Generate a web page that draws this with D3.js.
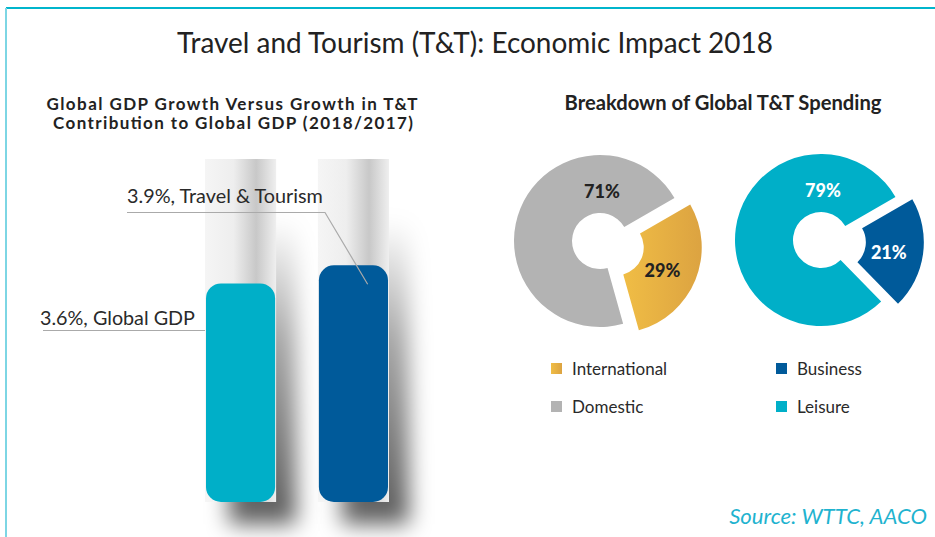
<!DOCTYPE html>
<html>
<head>
<meta charset="utf-8">
<script src="https://cdn.jsdelivr.net/npm/d3@7"></script>
<style>
  body { margin: 0; background: #fff; }
  text { font-family: Lato, "Open Sans", sans-serif; }
</style>
</head>
<body>
<div id="plot"></div>
<script>
// growth bars (percent, 2018 vs 2017)
const barCats = ["Global GDP", "Travel & Tourism"];
const barVals = [3.6, 3.9];
const barColors = ["#00afc8", "#005a9a"];

// spending breakdowns (percent)
const originCats = ["International", "Domestic"];
const originVals = [29, 71];
const originColors = ["url(#gold)", "#b3b3b3"];
const purposeCats = ["Business", "Leisure"];
const purposeVals = [21, 79];
const purposeColors = ["#005a9a", "#00afc8"];

const W = 935, H = 537;

const svg = d3.select("div#plot")
  .append("svg")
    .attr("width", W)
    .attr("height", H);

const defs = svg.append("defs");

// tube gradient behind the bars
const tube = defs.append("linearGradient").attr("id", "tube");
tube.append("stop").attr("offset", "0%").attr("stop-color", "#f5f5f5");
tube.append("stop").attr("offset", "40%").attr("stop-color", "#eeeeee");
tube.append("stop").attr("offset", "72%").attr("stop-color", "#c8c8c8");
tube.append("stop").attr("offset", "100%").attr("stop-color", "#efefef");

const gold = defs.append("linearGradient").attr("id", "gold");
gold.append("stop").attr("offset", "0%").attr("stop-color", "#f0bd45");
gold.append("stop").attr("offset", "100%").attr("stop-color", "#dca341");

const blur = defs.append("filter").attr("id", "blur")
  .attr("x", "-50%").attr("y", "-50%").attr("width", "200%").attr("height", "200%");
blur.append("feGaussianBlur").attr("stdDeviation", 11);

const fade = defs.append("linearGradient").attr("id", "fade")
  .attr("x1", 0).attr("y1", 0).attr("x2", 0).attr("y2", 1);
fade.append("stop").attr("offset", "0%").attr("stop-color", "#000").attr("stop-opacity", 0);
fade.append("stop").attr("offset", "40%").attr("stop-color", "#000").attr("stop-opacity", 0.35);
fade.append("stop").attr("offset", "100%").attr("stop-color", "#000").attr("stop-opacity", 0.65);

// frame
svg.append("line").attr("x1", 6).attr("x2", W).attr("y1", 8).attr("y2", 8)
  .attr("stroke", "#00b5cc").attr("stroke-width", 2);
svg.append("line").attr("x1", 6).attr("x2", 6).attr("y1", 8).attr("y2", H)
  .attr("stroke", "#7dd6e4").attr("stroke-width", 2);

// fit font size of a text to a target width
function fit(sel, w) {
  const len = sel.node().getComputedTextLength();
  const fs = parseFloat(sel.attr("font-size"));
  sel.attr("font-size", (fs * w / len).toFixed(2));
  return sel;
}

fit(svg.append("text")
  .attr("x", 475).attr("y", 53)
  .attr("text-anchor", "middle")
  .attr("font-size", 24)
  .attr("fill", "#222")
  .text("Travel and Tourism (T&T): Economic Impact 2018"), 596);

// ---- left: bars ----
svg.append("text").attr("x", 232).attr("y", 110).attr("text-anchor", "middle")
  .attr("font-size", 17).attr("font-weight", "bold").attr("fill", "#222")
  .attr("textLength", 371).attr("lengthAdjust", "spacing")
  .text("Global GDP Growth Versus Growth in T&T");
svg.append("text").attr("x", 233).attr("y", 129).attr("text-anchor", "middle")
  .attr("font-size", 17).attr("font-weight", "bold").attr("fill", "#222")
  .attr("textLength", 360).attr("lengthAdjust", "spacing")
  .text("Contribution to Global GDP (2018/2017)");

const x = d3.scaleBand()
  .domain(barCats)
  .range([205, 389])
  .paddingInner(0.37)
  .paddingOuter(0);

const y = d3.scaleLinear()
  .domain([0, 5.65])
  .range([502, 159]);

const bars = svg.append("g");

// soft shadows to the right of each tube
bars.selectAll(".tubeShadow")
  .data(barCats)
  .join("rect")
    .attr("x", d => x(d) + 24)
    .attr("y", y(5.65) + 60)
    .attr("width", x.bandwidth() - 4)
    .attr("height", y(0) - y(5.65) - 38)
    .attr("fill", "url(#fade)")
    .attr("filter", "url(#blur)");

bars.selectAll(".tube")
  .data(barCats)
  .join("rect")
    .attr("x", d => x(d))
    .attr("y", y(5.65))
    .attr("width", x.bandwidth())
    .attr("height", y(0) - y(5.65))
    .attr("fill", "url(#tube)");

bars.selectAll(".bar")
  .data(barVals)
  .join("rect")
    .attr("x", (d, i) => x(barCats[i]) + 1)
    .attr("y", d => y(d))
    .attr("width", x.bandwidth() - 2)
    .attr("height", d => y(0) - y(d))
    .attr("rx", 15)
    .attr("fill", (d, i) => barColors[i]);

// callouts
const c0 = svg.append("g");
fit(c0.append("text").attr("x", 40).attr("y", 325)
  .attr("font-size", 17).attr("fill", "#2a2a2a")
  .text(barVals[0].toFixed(1) + "%, " + barCats[0]), 155);
c0.append("path")
  .attr("d", `M43,330.5H${x(barCats[0])}`)
  .attr("stroke", "#aaa").attr("stroke-width", 1.2).attr("fill", "none");

const c1 = svg.append("g");
fit(c1.append("text").attr("x", 127).attr("y", 203)
  .attr("font-size", 17).attr("fill", "#2a2a2a")
  .text(barVals[1].toFixed(1) + "%, " + barCats[1]), 196);
c1.append("path")
  .attr("d", `M127,212.5H325L${x(barCats[1]) + x.bandwidth() * 0.7},${y(barVals[1]) + 19}`)
  .attr("stroke", "#aaa").attr("stroke-width", 1.2).attr("fill", "none");

// ---- right: donuts ----
fit(svg.append("text").attr("x", 723).attr("y", 110).attr("text-anchor", "middle")
  .attr("font-size", 16).attr("font-weight", "bold").attr("fill", "#222")
  .text("Breakdown of Global T&T Spending"), 317);

const rIn = 28, rOut = 86, explode = 17;
const pie = d3.pie().sort(null)
  .startAngle(Math.PI / 3)
  .endAngle(Math.PI / 3 + 2 * Math.PI);
const arc = d3.arc().innerRadius(rIn).outerRadius(rOut);

function donut(cx, cy, vals, colors, txtColors) {
  const g = svg.append("g").attr("transform", `translate(${cx},${cy})`);
  const arcs = pie(vals);
  g.selectAll("path")
    .data(arcs)
    .join("path")
      .attr("transform", (d, i) => {
        if (i !== 0) return null;
        const a = (d.startAngle + d.endAngle) / 2;
        return `translate(${Math.sin(a) * explode},${-Math.cos(a) * explode})`;
      })
      .attr("d", arc)
      .attr("fill", (d, i) => colors[i]);
  g.selectAll("text")
    .data(arcs)
    .join("text")
      .attr("x", (d, i) => {
        if (i === 0) {
          const a = (d.startAngle + d.endAngle) / 2 + 0.05;
          return Math.sin(a) * (52 + explode);
        }
        return 2;
      })
      .attr("y", (d, i) => {
        if (i === 0) {
          const a = (d.startAngle + d.endAngle) / 2 + 0.05;
          return -Math.cos(a) * (52 + explode);
        }
        return -49;
      })
      .attr("dy", "0.36em")
      .attr("text-anchor", "middle")
      .attr("font-size", 18)
      .attr("font-weight", "900")
      .attr("fill", (d, i) => txtColors[i])
      .text(d => d.data + "%");
}

donut(600, 241, originVals, originColors, ["#222", "#222"]);
donut(821, 240, purposeVals, purposeColors, ["#fff", "#fff"]);

// legends
function legend(x0, cats, colors) {
  const g = svg.append("g");
  cats.forEach((c, i) => {
    const yy = 375 + i * 38;
    g.append("rect").attr("x", x0).attr("y", yy - 12)
      .attr("width", 11).attr("height", 11).attr("fill", colors[i]);
    g.append("text").attr("x", x0 + 21).attr("y", yy)
      .attr("font-size", 17).attr("fill", "#2a2a2a").text(c);
  });
}
legend(551, originCats, originColors);
legend(776, purposeCats, purposeColors);

// source
fit(svg.append("text").attr("x", 927).attr("y", 524).attr("text-anchor", "end")
  .attr("font-size", 19).attr("font-style", "italic").attr("fill", "#1fb3cf")
  .text("Source: WTTC, AACO"), 198);
</script>
</body>
</html>
